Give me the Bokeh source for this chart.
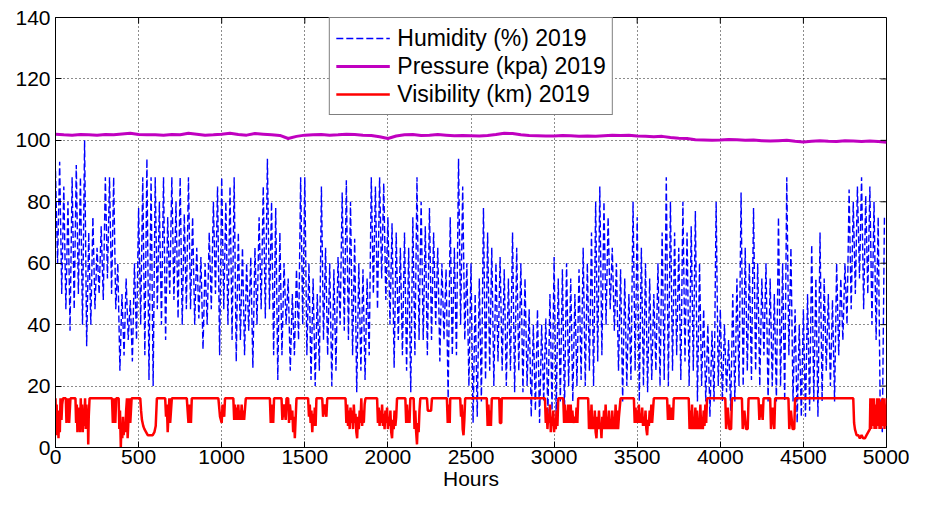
import numpy as np
from bokeh.plotting import figure
from bokeh.models import Legend, LegendItem, FixedTicker, Range1d
from bokeh.embed import file_html
from bokeh.resources import INLINE

# ---------------- data ----------------
# Humidity (%) sampled every 12.5 h (alternating night highs / day lows), one row per 100 h
humidity = [
    90, 60, 93, 50, 85, 45, 80, 38,
    88, 45, 92, 50, 88, 40, 100, 33,
    70, 40, 75, 45, 65, 50, 72, 48,
    88, 55, 88, 50, 88, 45, 60, 25,
    50, 30, 55, 35, 48, 28, 60, 35,
    78, 40, 88, 30, 94, 22, 88, 20,
    88, 45, 80, 40, 88, 35, 75, 50,
    88, 48, 80, 42, 88, 40, 76, 45,
    88, 45, 75, 40, 65, 42, 62, 32,
    60, 40, 70, 45, 80, 50, 85, 30,
    88, 45, 80, 40, 85, 35, 88, 28,
    70, 35, 65, 30, 60, 38, 62, 26,
    65, 40, 75, 45, 85, 42, 94, 45,
    80, 30, 78, 22, 70, 30, 60, 40,
    55, 25, 50, 30, 58, 35, 88, 40,
    88, 30, 60, 22, 55, 20, 50, 25,
    85, 35, 65, 30, 60, 20, 58, 25,
    62, 40, 83, 38, 87, 35, 80, 30,
    68, 18, 60, 25, 58, 22, 55, 30,
    88, 50, 85, 45, 88, 55, 86, 48,
    75, 40, 73, 26, 70, 35, 65, 30,
    70, 25, 65, 18, 75, 30, 88, 35,
    80, 35, 72, 30, 78, 35, 70, 40,
    65, 28, 60, 35, 58, 16, 75, 30,
    65, 30, 94, 40, 85, 35, 60, 20,
    60, 8, 50, 10, 55, 15, 78, 22,
    70, 25, 65, 20, 60, 28, 62, 25,
    58, 20, 55, 25, 70, 18, 65, 25,
    60, 18, 55, 20, 45, 10, 40, 12,
    45, 8, 40, 15, 42, 10, 50, 12,
    62, 10, 55, 15, 58, 12, 60, 20,
    55, 15, 50, 20, 58, 22, 65, 20,
    60, 25, 70, 20, 80, 28, 85, 30,
    80, 40, 75, 45, 65, 38, 60, 25,
    58, 15, 55, 20, 50, 22, 80, 25,
    75, 15, 65, 20, 60, 18, 55, 22,
    50, 25, 60, 20, 70, 22, 88, 20,
    80, 25, 70, 30, 65, 22, 80, 28,
    70, 20, 72, 25, 77, 15, 60, 20,
    45, 15, 40, 10, 38, 15, 80, 20,
    45, 15, 40, 18, 35, 12, 50, 15,
    55, 20, 83, 20, 65, 25, 60, 22,
    78, 25, 60, 20, 55, 30, 60, 15,
    55, 20, 50, 15, 75, 20, 60, 15,
    88, 30, 65, 15, 45, 8, 40, 10,
    45, 10, 50, 12, 66, 15, 55, 10,
    70, 15, 55, 25, 50, 20, 48, 15,
    60, 30, 55, 35, 60, 40, 84, 45,
    80, 50, 85, 55, 88, 45, 82, 50,
    85, 40, 80, 35, 75, 10, 5, 75,
]
humidity_step_h = 12.5

# Pressure (kPa) every 50 h
pressure = [
    102.0, 101.8, 101.7, 101.9, 101.8, 101.7, 101.9, 101.8, 102.1, 102.3,
    101.9, 101.8, 101.8, 101.7, 101.9, 101.8, 102.3, 102.0, 101.7, 101.8,
    102.0, 102.3, 101.9, 101.7, 102.2, 102.0, 101.8, 101.6, 100.6, 101.3,
    101.7, 101.8, 101.9, 101.7, 101.8, 102.0, 101.9, 101.7, 101.6, 101.2,
    100.6, 101.4, 101.8, 101.9, 101.6, 101.7, 101.9, 101.7, 101.5, 101.6,
    101.5, 101.4, 101.6, 101.9, 102.3, 102.2, 101.8, 101.6, 101.5, 101.4,
    101.4, 101.6, 101.5, 101.3, 101.4, 101.3, 101.5, 101.7, 101.6, 101.7,
    101.4, 101.3, 101.2, 101.3, 100.9, 100.7, 100.6, 100.2, 100.1, 100.0,
    100.1, 100.3, 100.2, 100.0, 100.1, 99.9, 99.8, 99.9, 100.0, 99.7,
    99.5, 99.7, 99.9, 99.7, 99.6, 99.9, 99.8, 99.6, 99.8, 99.6,
    99.4,
]
pressure_step_h = 50

# Visibility (km): break points (hour, value); capped at 16 km
vis_points = [
    (0, 16), (3, 8), (7, 14), (10, 4), (14, 12), (18, 3), (22, 10), (26, 5), (30, 16), (36, 9), (40, 14), (45, 16),
    (62, 16), (66, 8), (75, 16), (82, 8), (90, 16),
    (120, 16), (124, 8), (128, 14), (132, 5), (136, 12), (140, 6), (144, 13), (148, 5), (152, 16), (156, 8),
    (160, 14), (164, 5), (168, 12), (172, 7), (178, 16), (182, 6), (186, 14), (190, 8), (194, 12), (197, 1),
    (200, 10), (205, 16),
    (340, 16), (345, 8), (355, 16), (360, 8), (365, 16),
    (380, 16), (384, 6), (388, 12), (393, 0), (397, 8), (402, 3), (406, 10), (410, 4), (415, 8), (420, 5),
    (425, 12), (430, 16), (434, 3), (440, 10), (445, 16), (450, 8), (458, 16),
    (510, 16), (515, 12), (520, 9), (528, 7), (535, 6), (545, 5), (555, 4), (570, 4), (585, 4), (595, 5),
    (603, 7), (610, 16),
    (660, 16), (665, 10), (670, 14), (675, 5), (685, 16), (690, 8), (700, 16),
    (790, 16), (800, 8), (805, 14), (815, 8), (820, 16),
    (980, 16), (990, 10), (1000, 8), (1005, 14), (1015, 10), (1020, 16),
    (1070, 16), (1075, 9), (1080, 14), (1085, 9), (1090, 13), (1095, 9), (1100, 14), (1105, 9), (1110, 12),
    (1115, 9), (1120, 14), (1125, 9), (1130, 12), (1135, 9), (1145, 16),
    (1290, 16), (1295, 8), (1300, 14), (1310, 8), (1315, 16),
    (1360, 16), (1365, 9), (1375, 14), (1385, 9), (1390, 16),
    (1400, 16), (1405, 8), (1410, 14), (1420, 9), (1425, 12), (1430, 5), (1435, 10), (1440, 3), (1450, 16),
    (1520, 16), (1525, 10), (1530, 14), (1535, 8), (1540, 12), (1545, 5), (1550, 11), (1555, 7), (1560, 13),
    (1565, 7), (1570, 16),
    (1605, 16), (1610, 10), (1620, 14), (1630, 10), (1635, 16),
    (1745, 16), (1750, 8), (1755, 14), (1760, 7), (1765, 12), (1770, 6), (1775, 13), (1780, 8), (1785, 12),
    (1790, 6), (1795, 14), (1800, 8), (1805, 11), (1810, 5), (1815, 3), (1820, 10), (1825, 6), (1830, 12),
    (1835, 8), (1840, 16), (1845, 7), (1850, 12), (1855, 8), (1860, 14), (1865, 16),
    (1935, 16), (1940, 8), (1945, 13), (1950, 7), (1955, 12), (1960, 8), (1965, 14), (1970, 7), (1975, 11),
    (1980, 6), (1985, 12), (1990, 8), (1995, 13), (2000, 6), (2005, 10), (2010, 7), (2015, 12), (2020, 5),
    (2025, 3), (2030, 9), (2035, 6), (2040, 12), (2045, 7), (2050, 10), (2055, 16),
    (2105, 16), (2110, 8), (2115, 14), (2120, 8), (2125, 12), (2130, 8), (2135, 16),
    (2155, 16), (2160, 6), (2165, 12), (2170, 5), (2175, 1), (2180, 8), (2185, 5), (2190, 12), (2195, 16),
    (2235, 16), (2240, 12), (2260, 12), (2265, 16),
    (2355, 16), (2360, 8), (2365, 14), (2372, 8), (2375, 16),
    (2435, 16), (2440, 10), (2445, 14), (2450, 6), (2455, 4), (2460, 9), (2465, 16),
    (2595, 16), (2600, 7), (2605, 14), (2610, 7), (2615, 12), (2620, 7), (2625, 16),
    (2670, 16), (2674, 8), (2682, 8), (2685, 16),
    (2945, 16), (2950, 8), (2955, 13), (2960, 6), (2965, 11), (2970, 8), (2975, 14), (2980, 5), (2985, 10),
    (2990, 7), (2995, 12), (3000, 5), (3005, 9), (3010, 6), (3015, 12), (3020, 7), (3025, 16),
    (3055, 16), (3060, 8), (3065, 14), (3070, 8), (3075, 12), (3080, 8), (3085, 14), (3090, 8), (3100, 14),
    (3105, 8), (3110, 12), (3115, 8), (3125, 10), (3130, 8), (3135, 13), (3140, 8), (3145, 16),
    (3205, 16), (3210, 6), (3215, 12), (3220, 6), (3225, 14), (3230, 6), (3235, 10), (3240, 6), (3245, 12),
    (3250, 5), (3255, 3), (3260, 10), (3265, 6), (3270, 12), (3275, 6), (3280, 8), (3285, 3), (3290, 10),
    (3295, 6), (3300, 12), (3305, 6), (3310, 14), (3315, 6), (3320, 10), (3325, 6), (3330, 12), (3335, 6),
    (3340, 9), (3345, 6), (3350, 12), (3355, 6), (3360, 10), (3365, 6), (3370, 14), (3375, 6), (3380, 12),
    (3385, 6), (3390, 10), (3400, 16),
    (3480, 16), (3485, 8), (3490, 13), (3495, 8), (3500, 12), (3505, 8), (3510, 14), (3515, 8), (3520, 11),
    (3525, 8), (3530, 13), (3535, 7), (3540, 10), (3545, 7), (3550, 12), (3555, 6), (3560, 4), (3565, 9),
    (3570, 7), (3575, 12), (3580, 8), (3585, 14), (3590, 8), (3595, 12), (3600, 16),
    (3680, 16), (3685, 9), (3692, 14), (3700, 9), (3708, 13), (3715, 9), (3720, 16),
    (3810, 16), (3815, 6), (3820, 12), (3825, 6), (3830, 14), (3835, 6), (3840, 10), (3845, 6), (3850, 13),
    (3855, 6), (3860, 12), (3865, 6), (3870, 9), (3875, 6), (3880, 14), (3885, 6), (3890, 10), (3895, 6),
    (3900, 12), (3905, 7), (3910, 14), (3915, 8), (3920, 16),
    (4030, 16), (4035, 6), (4045, 13), (4055, 6), (4065, 6), (4070, 16),
    (4130, 16), (4135, 6), (4145, 12), (4155, 6), (4165, 6), (4170, 16),
    (4230, 16), (4235, 9), (4245, 14), (4255, 9), (4260, 16),
    (4300, 16), (4305, 6), (4315, 13), (4325, 6), (4330, 16),
    (4410, 16), (4415, 6), (4425, 12), (4435, 6), (4445, 6), (4450, 16),
    (4800, 16), (4805, 8), (4810, 6), (4815, 5), (4820, 4), (4830, 4), (4840, 3), (4850, 4), (4860, 3),
    (4870, 3), (4880, 4), (4890, 5), (4900, 6), (4903, 16), (4908, 6), (4913, 16), (4918, 7), (4923, 16),
    (4928, 6), (4933, 14), (4938, 6), (4943, 16), (4948, 7), (4953, 16), (4958, 6), (4963, 15), (4968, 6),
    (4973, 16), (4978, 7), (4983, 16), (4988, 6), (4993, 14), (4998, 7), (5000, 16),
]
vis_hours = [h for h, v in vis_points]
vis_values = [v for h, v in vis_points]

x_ticks = [0, 500, 1000, 1500, 2000, 2500, 3000, 3500, 4000, 4500, 5000]
y_ticks = [0, 20, 40, 60, 80, 100, 120, 140]

series_labels = ["Humidity (%) 2019", "Pressure (kpa) 2019", "Visibility (km) 2019"]

# ---------------- figure ----------------
hum_h = np.arange(len(humidity)) * humidity_step_h
pres_h = np.arange(len(pressure)) * pressure_step_h
x_min, x_max = x_ticks[0], x_ticks[-1]
y_min, y_max = y_ticks[0], y_ticks[-1]

FONT = "Liberation Sans"

p = figure(width=909, height=493, output_backend="svg", toolbar_location=None,
           x_range=Range1d(x_min, x_max), y_range=Range1d(y_min, y_max),
           min_border_left=55, min_border_right=23, min_border_top=17, min_border_bottom=46)
p.background_fill_color = "white"
p.border_fill_color = "white"
p.outline_line_color = "black"
p.outline_line_width = 1

for g in (p.xgrid[0], p.ygrid[0]):
    g.grid_line_color = "black"
    g.grid_line_dash = "1 3"
    g.grid_line_alpha = 0.9
p.xgrid.ticker = FixedTicker(ticks=x_ticks)
p.ygrid.ticker = FixedTicker(ticks=y_ticks)

r_h = p.line(hum_h, humidity, line_color="#0000ff", line_width=1.4, line_dash="7 3")
r_p = p.line(pres_h, pressure, line_color="#c000c0", line_width=3)
r_v = p.line(vis_hours, vis_values, line_color="#ff0000", line_width=2.5)

# inward ticks on the top and right edges of the box (MATLAB style)
p.ray(x=x_ticks, y=[y_max] * len(x_ticks), length=6, length_units="screen",
      angle=-np.pi / 2, line_color="black", line_width=1)
p.ray(x=[x_max] * len(y_ticks), y=y_ticks, length=6, length_units="screen",
      angle=np.pi, line_color="black", line_width=1)

for ax in (p.xaxis[0], p.yaxis[0]):
    ax.major_tick_in = 6
    ax.major_tick_out = 0
    ax.minor_tick_line_color = None
    ax.axis_line_color = "black"
    ax.major_tick_line_color = "black"
    ax.major_label_text_font = FONT
    ax.major_label_text_font_size = "21px"
    ax.major_label_text_color = "black"

p.xaxis[0].ticker = FixedTicker(ticks=x_ticks)
p.yaxis[0].ticker = FixedTicker(ticks=y_ticks)
p.xaxis[0].major_label_standoff = 2
p.yaxis[0].major_label_standoff = 5
p.xaxis[0].axis_label = "Hours"
p.xaxis[0].axis_label_text_font = FONT
p.xaxis[0].axis_label_text_font_size = "21px"
p.xaxis[0].axis_label_text_font_style = "normal"
p.xaxis[0].axis_label_text_color = "black"
p.xaxis[0].axis_label_standoff = 0

legend = Legend(items=[LegendItem(label=series_labels[0], renderers=[r_h]),
                       LegendItem(label=series_labels[1], renderers=[r_p]),
                       LegendItem(label=series_labels[2], renderers=[r_v])],
                location="top_center", margin=0, padding=6, spacing=0,
                glyph_width=54, glyph_height=28, label_height=28, label_standoff=8,
                label_text_font=FONT, label_text_font_size="23px", label_text_color="black",
                border_line_color="black", border_line_width=1,
                background_fill_alpha=1.0)
p.add_layout(legend)

open("out.html", "w").write(file_html(p, INLINE))
